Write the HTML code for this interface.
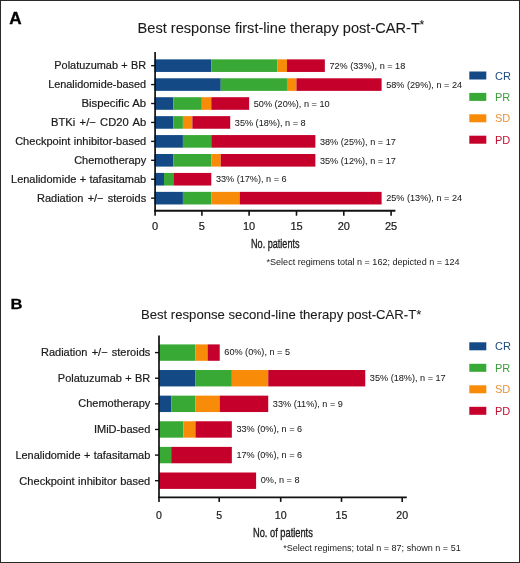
<!DOCTYPE html>
<html><head><meta charset="utf-8"><style>
html,body{margin:0;padding:0;background:#fff;}
body{width:520px;height:563px;overflow:hidden;}
svg{display:block;font-family:"Liberation Sans", sans-serif;will-change:transform;}
svg text{stroke:#1a1a1a;stroke-width:0.2px;}
</style></head><body>
<svg width="520" height="563" viewBox="0 0 520 563" fill="#1a1a1a">
<rect x="0.5" y="0.5" width="519" height="562" fill="#fff" stroke="#2a2a2a" stroke-width="1"/>
<text x="0" y="23.6" font-size="15.6" font-weight="bold" fill="#000" style="stroke:#000;stroke-width:0.3px" transform="translate(9.3 0) scale(1.1 1)">A</text>
<text x="137.6" y="32.7" font-size="14.6" style="stroke-width:0.08px">Best response first-line therapy post-CAR-T<tspan font-size="12" dx="-0.3" dy="-3.3">*</tspan></text>
<rect x="154.52" y="59.35" width="56.77" height="12.6" fill="#134a86"/>
<rect x="211.29" y="59.35" width="66.23" height="12.6" fill="#39a935"/>
<rect x="277.53" y="59.35" width="9.46" height="12.6" fill="#f88b08"/>
<rect x="286.99" y="59.35" width="37.85" height="12.6" fill="#c5002a"/>
<text x="329.44" y="68.85" font-size="9.15" style="stroke-width:0.05px">72% (33%), n = 18</text>
<text x="54.35" y="68.85" font-size="11" textLength="91.82" lengthAdjust="spacingAndGlyphs" word-spacing="0.3">Polatuzumab + BR</text>
<line x1="151.10" y1="65.65" x2="155.10" y2="65.65" stroke="#111" stroke-width="1.4"/>
<rect x="154.52" y="78.28" width="66.23" height="12.6" fill="#134a86"/>
<rect x="220.75" y="78.28" width="66.23" height="12.6" fill="#39a935"/>
<rect x="286.99" y="78.28" width="9.46" height="12.6" fill="#f88b08"/>
<rect x="296.45" y="78.28" width="85.16" height="12.6" fill="#c5002a"/>
<text x="386.21" y="87.78" font-size="9.15" style="stroke-width:0.05px">58% (29%), n = 24</text>
<text x="48.15" y="88.48" font-size="11" textLength="97.96" lengthAdjust="spacingAndGlyphs" word-spacing="0.3">Lenalidomide-based</text>
<line x1="151.10" y1="84.58" x2="155.10" y2="84.58" stroke="#111" stroke-width="1.4"/>
<rect x="154.52" y="97.21" width="18.92" height="12.6" fill="#134a86"/>
<rect x="173.44" y="97.21" width="28.39" height="12.6" fill="#39a935"/>
<rect x="201.83" y="97.21" width="9.46" height="12.6" fill="#f88b08"/>
<rect x="211.29" y="97.21" width="37.85" height="12.6" fill="#c5002a"/>
<text x="253.74" y="106.71" font-size="9.15" style="stroke-width:0.05px">50% (20%), n = 10</text>
<text x="81.45" y="107.41" font-size="11" textLength="64.66" lengthAdjust="spacingAndGlyphs" word-spacing="0.3">Bispecific Ab</text>
<line x1="151.10" y1="103.51" x2="155.10" y2="103.51" stroke="#111" stroke-width="1.4"/>
<rect x="154.52" y="116.14" width="18.92" height="12.6" fill="#134a86"/>
<rect x="173.44" y="116.14" width="9.46" height="12.6" fill="#39a935"/>
<rect x="182.91" y="116.14" width="9.46" height="12.6" fill="#f88b08"/>
<rect x="192.37" y="116.14" width="37.85" height="12.6" fill="#c5002a"/>
<text x="234.82" y="125.64" font-size="9.15" style="stroke-width:0.05px">35% (18%), n = 8</text>
<text x="51.05" y="126.34" font-size="11" textLength="95.08" lengthAdjust="spacingAndGlyphs" word-spacing="1.2">BTKi +/− CD20 Ab</text>
<line x1="151.10" y1="122.44" x2="155.10" y2="122.44" stroke="#111" stroke-width="1.4"/>
<rect x="154.52" y="135.07" width="28.39" height="12.6" fill="#134a86"/>
<rect x="182.91" y="135.07" width="28.39" height="12.6" fill="#39a935"/>
<rect x="211.29" y="135.07" width="104.08" height="12.6" fill="#c5002a"/>
<text x="319.97" y="144.57" font-size="9.15" style="stroke-width:0.05px">38% (25%), n = 17</text>
<text x="15.15" y="145.27" font-size="11" textLength="131.04" lengthAdjust="spacingAndGlyphs" word-spacing="0.3">Checkpoint inhibitor-based</text>
<line x1="151.10" y1="141.37" x2="155.10" y2="141.37" stroke="#111" stroke-width="1.4"/>
<rect x="154.52" y="154.00" width="18.92" height="12.6" fill="#134a86"/>
<rect x="173.44" y="154.00" width="37.85" height="12.6" fill="#39a935"/>
<rect x="211.29" y="154.00" width="9.46" height="12.6" fill="#f88b08"/>
<rect x="220.75" y="154.00" width="94.62" height="12.6" fill="#c5002a"/>
<text x="319.97" y="163.50" font-size="9.15" style="stroke-width:0.05px">35% (12%), n = 17</text>
<text x="74.15" y="164.20" font-size="11" textLength="72.05" lengthAdjust="spacingAndGlyphs" word-spacing="0.3">Chemotherapy</text>
<line x1="151.10" y1="160.30" x2="155.10" y2="160.30" stroke="#111" stroke-width="1.4"/>
<rect x="154.52" y="172.93" width="9.46" height="12.6" fill="#134a86"/>
<rect x="163.98" y="172.93" width="9.46" height="12.6" fill="#39a935"/>
<rect x="173.44" y="172.93" width="37.85" height="12.6" fill="#c5002a"/>
<text x="215.89" y="182.43" font-size="9.15" style="stroke-width:0.05px">33% (17%), n = 6</text>
<text x="11.05" y="183.13" font-size="11" textLength="135.13" lengthAdjust="spacingAndGlyphs" word-spacing="0.3">Lenalidomide + tafasitamab</text>
<line x1="151.10" y1="179.23" x2="155.10" y2="179.23" stroke="#111" stroke-width="1.4"/>
<rect x="154.52" y="191.86" width="28.39" height="12.6" fill="#134a86"/>
<rect x="182.91" y="191.86" width="28.39" height="12.6" fill="#39a935"/>
<rect x="211.29" y="191.86" width="28.39" height="12.6" fill="#f88b08"/>
<rect x="239.68" y="191.86" width="141.93" height="12.6" fill="#c5002a"/>
<text x="386.21" y="201.36" font-size="9.15" style="stroke-width:0.05px">25% (13%), n = 24</text>
<text x="37.05" y="202.06" font-size="11" textLength="109.10" lengthAdjust="spacingAndGlyphs" word-spacing="1.2">Radiation +/− steroids</text>
<line x1="151.10" y1="198.16" x2="155.10" y2="198.16" stroke="#111" stroke-width="1.4"/>
<line x1="155.10" y1="51.9" x2="155.10" y2="211.60000000000002" stroke="#111" stroke-width="1.7"/>
<line x1="154.25" y1="210.8" x2="395.4" y2="210.8" stroke="#111" stroke-width="1.9"/>
<line x1="155.10" y1="210.8" x2="155.10" y2="215.70000000000002" stroke="#111" stroke-width="1.6"/>
<text x="155.10" y="229.9" font-size="11" text-anchor="middle">0</text>
<line x1="201.90" y1="210.8" x2="201.90" y2="215.70000000000002" stroke="#111" stroke-width="1.6"/>
<text x="201.90" y="229.9" font-size="11" text-anchor="middle">5</text>
<line x1="249.10" y1="210.8" x2="249.10" y2="215.70000000000002" stroke="#111" stroke-width="1.6"/>
<text x="249.10" y="229.9" font-size="11" text-anchor="middle">10</text>
<line x1="296.50" y1="210.8" x2="296.50" y2="215.70000000000002" stroke="#111" stroke-width="1.6"/>
<text x="296.50" y="229.9" font-size="11" text-anchor="middle">15</text>
<line x1="343.80" y1="210.8" x2="343.80" y2="215.70000000000002" stroke="#111" stroke-width="1.6"/>
<text x="343.80" y="229.9" font-size="11" text-anchor="middle">20</text>
<line x1="391.10" y1="210.8" x2="391.10" y2="215.70000000000002" stroke="#111" stroke-width="1.6"/>
<text x="391.10" y="229.9" font-size="11" text-anchor="middle">25</text>
<text x="275.3" y="247.6" font-size="13.3" style="stroke-width:0.35px" text-anchor="middle" transform="translate(275.3 0) scale(0.685 1) translate(-275.3 0)">No. patients</text>
<text x="266.5" y="265.2" font-size="9.05" style="stroke-width:0">*Select regimens total n = 162; depicted n = 124</text>
<rect x="469.3" y="71.50" width="17" height="8" fill="#134a86"/>
<text x="495" y="79.50" font-size="11" fill="#1d4a82" style="stroke-width:0">CR</text>
<rect x="469.3" y="92.90" width="17" height="8" fill="#39a935"/>
<text x="495" y="100.90" font-size="11" fill="#3f9a3c" style="stroke-width:0">PR</text>
<rect x="469.3" y="114.30" width="17" height="8" fill="#f88b08"/>
<text x="495" y="122.30" font-size="11" fill="#e8923a" style="stroke-width:0">SD</text>
<rect x="469.3" y="135.70" width="17" height="8" fill="#c5002a"/>
<text x="495" y="143.70" font-size="11" fill="#c0102e" style="stroke-width:0">PD</text>
<text x="0" y="309.3" font-size="15.5" font-weight="bold" fill="#000" style="stroke:#000;stroke-width:0.3px" transform="translate(10.5 0) scale(1.07 1)">B</text>
<text x="140.9" y="318.8" font-size="13.15" style="stroke-width:0.08px">Best response second-line therapy post-CAR-T*</text>
<rect x="159.08" y="344.40" width="36.38" height="16.4" fill="#39a935"/>
<rect x="195.46" y="344.40" width="12.13" height="16.4" fill="#f88b08"/>
<rect x="207.59" y="344.40" width="12.13" height="16.4" fill="#c5002a"/>
<text x="224.32" y="355.30" font-size="9.15" style="stroke-width:0.05px">60% (0%), n = 5</text>
<text x="41.05" y="355.80" font-size="11" textLength="109.20" lengthAdjust="spacingAndGlyphs" word-spacing="1.2">Radiation +/− steroids</text>
<line x1="155.00" y1="352.60" x2="159.00" y2="352.60" stroke="#111" stroke-width="1.4"/>
<rect x="159.08" y="370.02" width="36.38" height="16.4" fill="#134a86"/>
<rect x="195.46" y="370.02" width="36.38" height="16.4" fill="#39a935"/>
<rect x="231.85" y="370.02" width="36.38" height="16.4" fill="#f88b08"/>
<rect x="268.23" y="370.02" width="97.02" height="16.4" fill="#c5002a"/>
<text x="369.86" y="380.92" font-size="9.15" style="stroke-width:0.05px">35% (18%), n = 17</text>
<text x="57.85" y="381.92" font-size="11" textLength="92.42" lengthAdjust="spacingAndGlyphs" word-spacing="0.3">Polatuzumab + BR</text>
<line x1="155.00" y1="378.22" x2="159.00" y2="378.22" stroke="#111" stroke-width="1.4"/>
<rect x="159.08" y="395.64" width="12.13" height="16.4" fill="#134a86"/>
<rect x="171.21" y="395.64" width="24.26" height="16.4" fill="#39a935"/>
<rect x="195.46" y="395.64" width="24.26" height="16.4" fill="#f88b08"/>
<rect x="219.72" y="395.64" width="48.51" height="16.4" fill="#c5002a"/>
<text x="272.83" y="406.54" font-size="9.15" style="stroke-width:0.05px">33% (11%), n = 9</text>
<text x="78.35" y="407.24" font-size="11" textLength="71.95" lengthAdjust="spacingAndGlyphs" word-spacing="0.3">Chemotherapy</text>
<line x1="155.00" y1="403.84" x2="159.00" y2="403.84" stroke="#111" stroke-width="1.4"/>
<rect x="159.08" y="421.26" width="24.26" height="16.4" fill="#39a935"/>
<rect x="183.34" y="421.26" width="12.13" height="16.4" fill="#f88b08"/>
<rect x="195.46" y="421.26" width="36.38" height="16.4" fill="#c5002a"/>
<text x="236.45" y="432.16" font-size="9.15" style="stroke-width:0.05px">33% (0%), n = 6</text>
<text x="93.95" y="432.96" font-size="11" textLength="56.34" lengthAdjust="spacingAndGlyphs" word-spacing="0.3">IMiD-based</text>
<line x1="155.00" y1="429.46" x2="159.00" y2="429.46" stroke="#111" stroke-width="1.4"/>
<rect x="159.08" y="446.88" width="12.13" height="16.4" fill="#39a935"/>
<rect x="171.21" y="446.88" width="60.64" height="16.4" fill="#c5002a"/>
<text x="236.45" y="457.78" font-size="9.15" style="stroke-width:0.05px">17% (0%), n = 6</text>
<text x="15.45" y="459.08" font-size="11" textLength="134.83" lengthAdjust="spacingAndGlyphs" word-spacing="0.3">Lenalidomide + tafasitamab</text>
<line x1="155.00" y1="455.08" x2="159.00" y2="455.08" stroke="#111" stroke-width="1.4"/>
<rect x="159.08" y="472.50" width="97.02" height="16.4" fill="#c5002a"/>
<text x="260.70" y="483.40" font-size="9.15" style="stroke-width:0.05px">0%, n = 8</text>
<text x="19.35" y="484.50" font-size="11" textLength="130.93" lengthAdjust="spacingAndGlyphs" word-spacing="0.3">Checkpoint inhibitor based</text>
<line x1="155.00" y1="480.70" x2="159.00" y2="480.70" stroke="#111" stroke-width="1.4"/>
<line x1="159.00" y1="335.4" x2="159.00" y2="498.1" stroke="#111" stroke-width="1.7"/>
<line x1="158.15" y1="497.3" x2="406.8" y2="497.3" stroke="#111" stroke-width="1.7"/>
<line x1="159.00" y1="497.3" x2="159.00" y2="501.90000000000003" stroke="#111" stroke-width="1.6"/>
<text x="159.00" y="518.6" font-size="10.6" text-anchor="middle">0</text>
<line x1="219.20" y1="497.3" x2="219.20" y2="501.90000000000003" stroke="#111" stroke-width="1.6"/>
<text x="219.20" y="518.6" font-size="10.6" text-anchor="middle">5</text>
<line x1="280.70" y1="497.3" x2="280.70" y2="501.90000000000003" stroke="#111" stroke-width="1.6"/>
<text x="280.70" y="518.6" font-size="10.6" text-anchor="middle">10</text>
<line x1="341.50" y1="497.3" x2="341.50" y2="501.90000000000003" stroke="#111" stroke-width="1.6"/>
<text x="341.50" y="518.6" font-size="10.6" text-anchor="middle">15</text>
<line x1="402.20" y1="497.3" x2="402.20" y2="501.90000000000003" stroke="#111" stroke-width="1.6"/>
<text x="402.20" y="518.6" font-size="10.6" text-anchor="middle">20</text>
<text x="282.9" y="537.5" font-size="12.4" style="stroke-width:0.35px" text-anchor="middle" transform="translate(282.9 0) scale(0.75 1) translate(-282.9 0)">No. of patients</text>
<text x="283.2" y="550.9" font-size="9.05" style="stroke-width:0">*Select regimens; total n = 87; shown n = 51</text>
<rect x="469.3" y="342.30" width="17" height="8" fill="#134a86"/>
<text x="495" y="350.30" font-size="11" fill="#1d4a82" style="stroke-width:0">CR</text>
<rect x="469.3" y="363.80" width="17" height="8" fill="#39a935"/>
<text x="495" y="371.80" font-size="11" fill="#3f9a3c" style="stroke-width:0">PR</text>
<rect x="469.3" y="385.30" width="17" height="8" fill="#f88b08"/>
<text x="495" y="393.30" font-size="11" fill="#e8923a" style="stroke-width:0">SD</text>
<rect x="469.3" y="406.80" width="17" height="8" fill="#c5002a"/>
<text x="495" y="414.80" font-size="11" fill="#c0102e" style="stroke-width:0">PD</text>
</svg>
</body></html>
